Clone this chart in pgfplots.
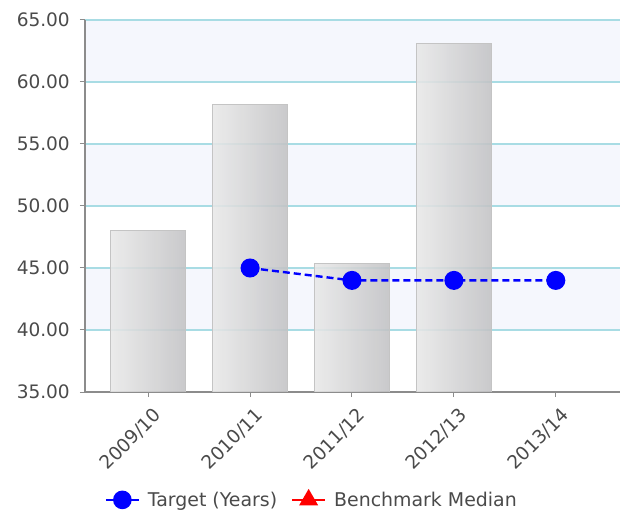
\documentclass[border=0pt]{standalone}
\usepackage{pgfplots}
\pgfplotsset{compat=1.18}
\usepackage{fontspec}
\setmainfont{DejaVu Sans}
\definecolor{txt}{HTML}{4A4A4A}
\definecolor{gridc}{HTML}{A8DCE4}
\definecolor{band}{HTML}{F5F7FD}
\definecolor{axc}{HTML}{8C8C8C}
\definecolor{barL}{HTML}{E8E8E8}
\definecolor{barR}{HTML}{C2C2C4}
\definecolor{barE}{HTML}{C4C4C4}
\begin{document}
\begin{tikzpicture}
\begin{axis}[
  set layers=standard,
  at={(0,0)}, anchor=south west,
  scale only axis, width=535bp, height=372bp,
  xmin=-0.62, xmax=4.63, ymin=35, ymax=65,
  axis x line*=bottom, axis y line*=left,
  axis line style={-, axc, line width=1.3bp},
  tick style={axc, line width=1bp},
  major tick length=5bp,
  tick align=outside,
  ymajorgrids, grid style={gridc, line width=1.2bp},
  ytick={35,40,45,50,55,60,65},
  xtick={0,1,2,3,4},
  xticklabels={2009/10,2010/11,2011/12,2012/13,2013/14},
  /pgf/number format/assume math mode=true,
  ticklabel style={font=\fontsize{18.6}{20}\selectfont, text=txt},
  yticklabel style={/pgf/number format/.cd, fixed, fixed zerofill, precision=2, /tikz/.cd, inner sep=0pt, xshift=-10bp},
  xticklabel style={inner sep=0pt, xshift=10bp, yshift=-15bp, rotate=45, anchor=east},
  legend style={at={(0.424,-0.29)}, anchor=center, draw=none, fill=none,
    font=\fontsize{19}{20}\selectfont, text=txt,
    /tikz/every odd column/.append style={column sep=6bp},
    /tikz/every even column/.append style={column sep=12bp}},
  legend columns=2,
  legend cell align=left,
  legend image code/.code={\draw[mark repeat=2,mark phase=2,#1] plot coordinates {(0bp,0bp) (16.5bp,0bp) (33bp,0bp)};},
  barstyle/.style={ybar, bar width=75bp, draw=barE, line width=0.8bp, left color=barL, right color=barR, fill opacity=0.88, forget plot},
]
\begin{pgfonlayer}{axis background}
\fill[band] (axis cs:-0.62,40) rectangle (axis cs:4.63,45);
\fill[band] (axis cs:-0.62,50) rectangle (axis cs:4.63,55);
\fill[band] (axis cs:-0.62,60) rectangle (axis cs:4.63,65);
\end{pgfonlayer}
\addplot[barstyle] coordinates {(0,48.0)};
\addplot[barstyle] coordinates {(1,58.2)};
\addplot[barstyle] coordinates {(2,45.4)};
\addplot[barstyle] coordinates {(3,63.1)};
\addplot[blue, line width=2.4bp, dash pattern=on 7bp off 4bp, mark=*, mark size=8.3bp, mark options={solid, fill=blue}, forget plot]
  coordinates {(1,45) (2,44) (3,44) (4,44)};
\addlegendimage{blue, solid, line width=2bp, mark=*, mark size=8.3bp, mark options={fill=blue}}
\addlegendentry{Target (Years)}
\addlegendimage{red, solid, line width=2bp, mark=triangle*, mark size=9bp, mark options={fill=red}}
\addlegendentry{Benchmark Median}
\end{axis}
\path[use as bounding box] (-85bp,-123bp) rectangle (539bp,392bp);
\end{tikzpicture}
\end{document}
